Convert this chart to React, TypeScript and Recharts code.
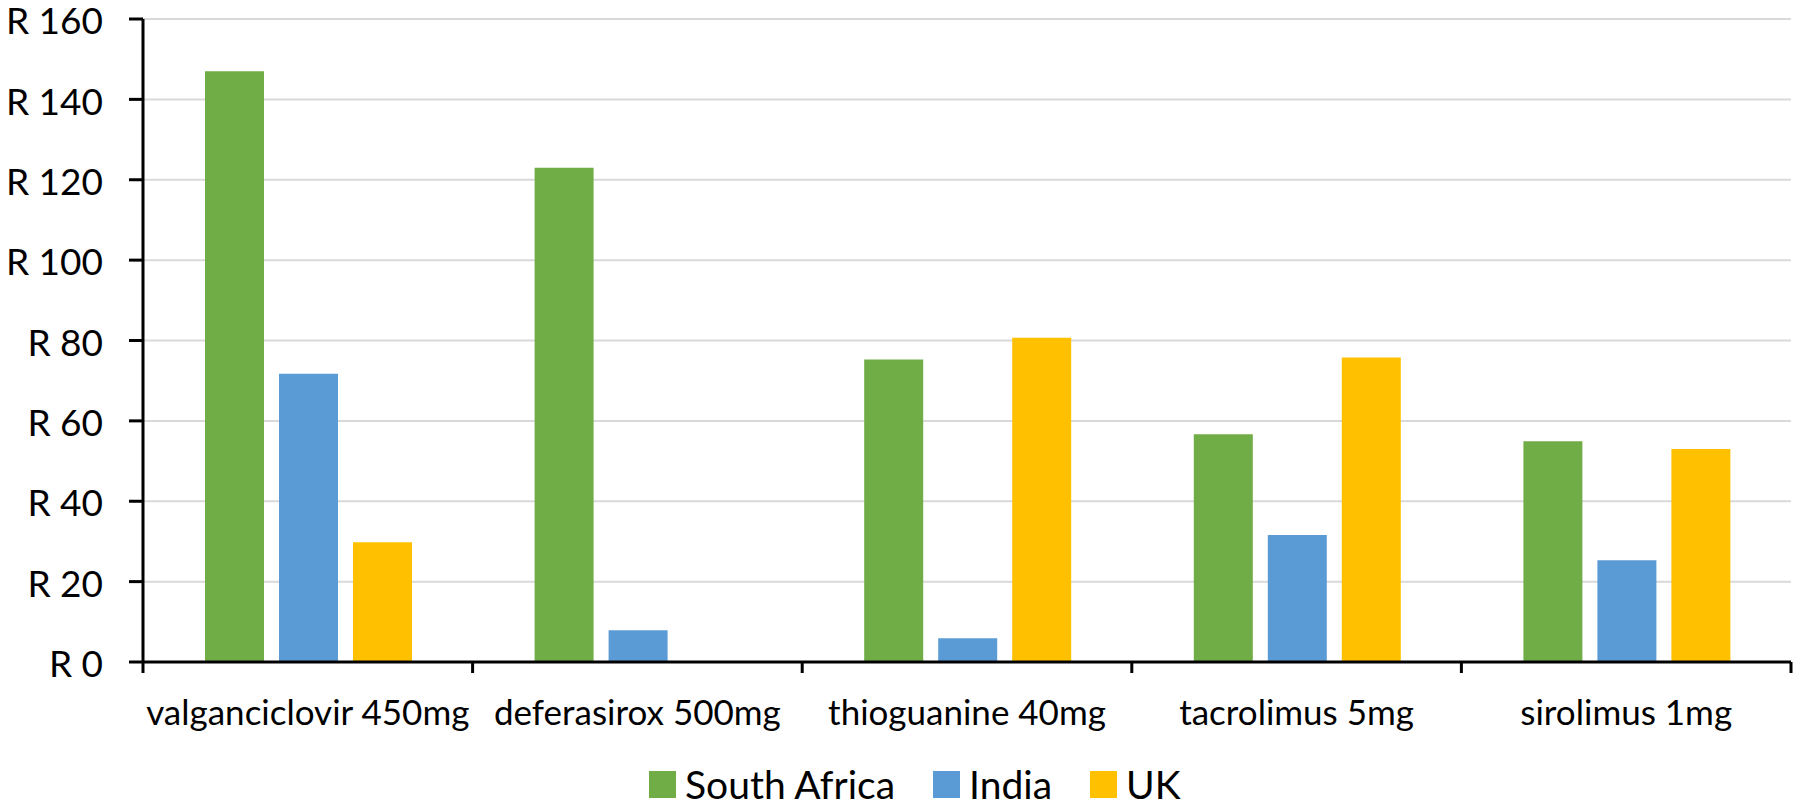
import React from 'react';
import { Bar, BarChart, CartesianGrid, XAxis, YAxis } from 'recharts';

const drugs = ['valganciclovir 450mg', 'deferasirox 500mg', 'thioguanine 40mg', 'tacrolimus 5mg', 'sirolimus 1mg'];
const southAfrica = [147, 123, 75.3, 56.7, 54.9];
const india = [71.7, 7.9, 5.9, 31.6, 25.3];
const uk = [29.8, 0, 80.7, 75.8, 53];
const yTicks = [0, 20, 40, 60, 80, 100, 120, 140, 160];

const SERIES = [
  { key: 'southAfrica', name: 'South Africa', color: '#70AD47' },
  { key: 'india', name: 'India', color: '#5B9BD5' },
  { key: 'uk', name: 'UK', color: '#FFC000' }
];

const FONT = 'Lato, "Open Sans", sans-serif';
const FONT_SIZE = 35;
const PLOT_LEFT = 143;
const PLOT_RIGHT = 1791;
const BAND = (PLOT_RIGHT - PLOT_LEFT) / drugs.length;

const data = drugs.map((drug, i) => ({
  drug,
  southAfrica: southAfrica[i],
  india: india[i],
  uk: uk[i]
}));

const CategoryTick = (props: any) => {
  const { x, y, payload, index } = props;
  return (
    <g>
      <line x1={x - BAND / 2} x2={x - BAND / 2} y1={y} y2={y + 11} stroke="#000" strokeWidth={3} />
      {index === drugs.length - 1 && (
        <line x1={x + BAND / 2} x2={x + BAND / 2} y1={y} y2={y + 11} stroke="#000" strokeWidth={3} />
      )}
      <text x={x} y={y + 51} dy="0.35em" textAnchor="middle" fill="#000" fontSize={FONT_SIZE} fontFamily={FONT}>
        {payload.value}
      </text>
    </g>
  );
};

const App: React.FC = () => {
  return (
    <div style={{ position: 'absolute', left: 0, top: 0, width: 1795, height: 807, background: '#fff' }}>
      <BarChart
        width={1795}
        height={807}
        data={data}
        margin={{ top: 19, right: 1795 - PLOT_RIGHT, left: 0, bottom: 0 }}
        barCategoryGap={62}
        barGap={15}
      >
        <CartesianGrid vertical={false} stroke="#d9d9d9" strokeWidth={2} />
        <XAxis
          dataKey="drug"
          interval={0}
          height={807 - 19 - 643}
          tickSize={0}
          tickMargin={0}
          tickLine={false}
          axisLine={{ stroke: '#000', strokeWidth: 3 }}
          tick={<CategoryTick />}
        />
        <YAxis
          width={PLOT_LEFT}
          domain={[0, 160]}
          ticks={yTicks}
          interval={0}
          tickSize={14}
          tickMargin={26}
          axisLine={{ stroke: '#000', strokeWidth: 3 }}
          tickLine={{ stroke: '#000', strokeWidth: 3 }}
          tickFormatter={(v: number) => `R ${v}`}
          tick={{ fill: '#000', fontSize: 37, fontFamily: FONT, dy: 2 }}
        />
        {SERIES.map((s) => (
          <Bar key={s.key} dataKey={s.key} name={s.name} fill={s.color} isAnimationActive={false} />
        ))}
      </BarChart>
      <div
        style={{
          position: 'absolute',
          left: 649,
          top: 761,
          display: 'flex',
          alignItems: 'center',
          fontFamily: FONT,
          fontSize: 39,
          color: '#000',
          whiteSpace: 'nowrap'
        }}
      >
        {SERIES.map((s) => (
          <div key={s.key} style={{ display: 'flex', alignItems: 'center', marginRight: 38 }}>
            <span style={{ width: 27, height: 27, background: s.color, display: 'inline-block', marginRight: 9 }} />
            <span>{s.name}</span>
          </div>
        ))}
      </div>
    </div>
  );
};

export default App;
